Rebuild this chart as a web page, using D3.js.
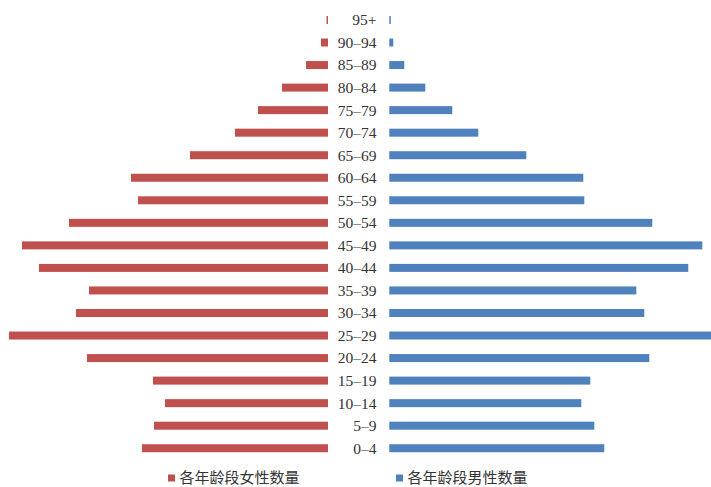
<!DOCTYPE html>
<html>
<head>
<meta charset="utf-8">
<script src="https://cdn.jsdelivr.net/npm/d3@7"></script>
<style>
  html, body { margin: 0; padding: 0; background: #ffffff; }
  svg { display: block; }
</style>
</head>
<body>
<svg id="chart" width="711" height="487"></svg>
<script>
// Age groups, youngest first
const ageGroups = ["0–4", "5–9", "10–14", "15–19", "20–24", "25–29", "30–34", "35–39",
  "40–44", "45–49", "50–54", "55–59", "60–64", "65–69", "70–74", "75–79",
  "80–84", "85–89", "90–94", "95+"];

// Population per age group
const femaleCounts = [186, 174, 163, 175, 241, 319, 252, 239, 289, 306, 259, 190, 197, 138, 93, 70, 46, 22, 7, 1.5];
const maleCounts   = [215, 205, 192, 201, 260, 323, 255, 247, 299, 313, 263, 195, 194, 137, 89, 63, 36, 15, 4, 1.5];

const legendLabels = ["各年龄段女性数量", "各年龄段男性数量"];
const seriesColors = ["#C0504D", "#4F81BD"];

const svg = d3.select("#chart");

// Rows: oldest at the top
const y = d3.scaleBand()
  .domain(ageGroups.slice().reverse())
  .range([8.7, 459.5])
  .paddingInner(0.645)
  .paddingOuter(0.3225);

const maxVal = 330;
const xF = d3.scaleLinear().domain([0, maxVal]).range([328, -2]);
const xM = d3.scaleLinear().domain([0, maxVal]).range([389.3, 719.3]);

const rows = ageGroups.map((g, i) => ({ g, f: femaleCounts[i], m: maleCounts[i] }));

// Female bars (extend left)
svg.append("g").selectAll("rect")
  .data(rows).join("rect")
  .attr("x", d => xF(d.f))
  .attr("y", d => y(d.g))
  .attr("width", d => xF(0) - xF(d.f))
  .attr("height", y.bandwidth())
  .attr("fill", seriesColors[0]);

// Male bars (extend right)
svg.append("g").selectAll("rect")
  .data(rows).join("rect")
  .attr("x", xM(0))
  .attr("y", d => y(d.g))
  .attr("width", d => xM(d.m) - xM(0))
  .attr("height", y.bandwidth())
  .attr("fill", seriesColors[1]);

// Age group labels in the centre gap
svg.append("g").selectAll("text")
  .data(rows).join("text")
  .attr("x", 376.5)
  .attr("y", d => y(d.g) + y.bandwidth() / 2)
  .attr("dy", "0.35em")
  .attr("text-anchor", "end")
  .attr("font-family", "'Liberation Serif', 'DejaVu Serif', serif")
  .attr("font-size", 15.5)
  .attr("fill", "#333333")
  .text(d => d.g);

// Legend
const legendX = [168, 396];
const legend = svg.append("g").selectAll("g")
  .data(legendLabels).join("g")
  .attr("transform", (d, i) => `translate(${legendX[i]},478)`);
legend.append("rect")
  .attr("x", 0).attr("y", -3.5)
  .attr("width", 7).attr("height", 7)
  .attr("fill", (d, i) => seriesColors[i]);
legend.append("text")
  .attr("x", 11.5)
  .attr("dy", "0.36em")
  .attr("font-family", "'Noto Sans CJK SC', sans-serif")
  .attr("font-size", 15)
  .attr("fill", "#333333")
  .text(d => d);
</script>
</body>
</html>
